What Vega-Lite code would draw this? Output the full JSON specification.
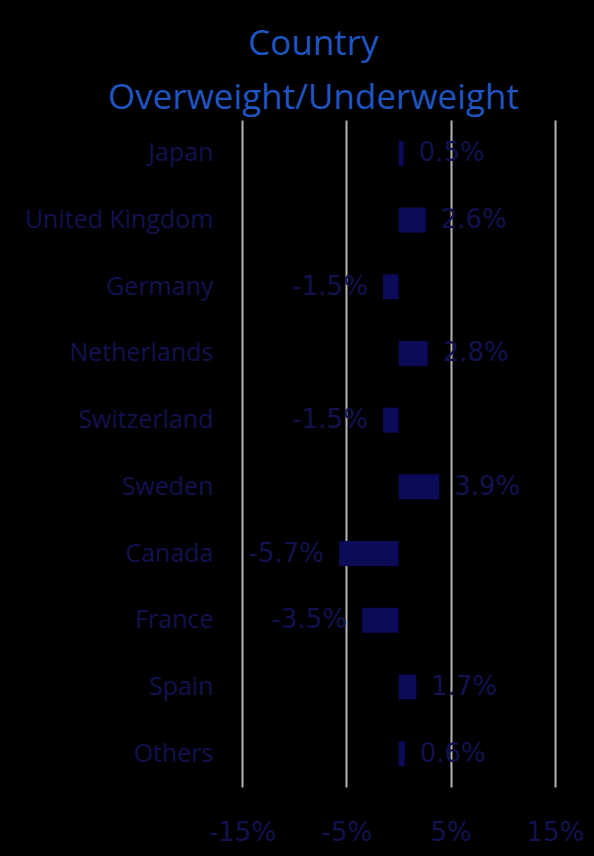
{
  "$schema": "https://vega.github.io/schema/vega-lite/v6.json",
  "autosize": {"type": "none"},
  "padding": {"left": 242, "top": 120, "right": 39, "bottom": 69},
  "width": 313,
  "height": 667,
  "background": "#000000",
  "title": {
    "text": ["Country", "Overweight/Underweight"],
    "anchor": "middle",
    "frame": "group",
    "dx": -85,
    "offset": 4,
    "font": "Open Sans",
    "fontSize": 35,
    "fontWeight": "normal",
    "lineHeight": 54,
    "color": "#1f55c0"
  },
  "data": {
    "values": [
      {"country": "Japan", "value": 0.005},
      {"country": "United Kingdom", "value": 0.026},
      {"country": "Germany", "value": -0.015},
      {"country": "Netherlands", "value": 0.028},
      {"country": "Switzerland", "value": -0.015},
      {"country": "Sweden", "value": 0.039},
      {"country": "Canada", "value": -0.057},
      {"country": "France", "value": -0.035},
      {"country": "Spain", "value": 0.017},
      {"country": "Others", "value": 0.006}
    ]
  },
  "transform": [
    {"calculate": "replace(format(datum.value, '.1%'), '\u2212', '-')", "as": "label"}
  ],
  "encoding": {
    "y": {
      "field": "country",
      "type": "nominal",
      "sort": null,
      "title": null,
      "scale": {"paddingInner": 0.625, "paddingOuter": 0.3125},
      "axis": {
        "domain": false,
        "ticks": false,
        "labelPadding": 29,
        "labelLimit": 300,
        "labelFont": "Open Sans",
        "labelFontSize": 25,
        "labelColor": "#12124f"
      }
    },
    "x": {
      "field": "value",
      "type": "quantitative",
      "title": null,
      "scale": {"domain": [-0.15, 0.15]},
      "axis": {
        "values": [-0.15, -0.05, 0.05, 0.15],
        "labelExpr": "replace(format(datum.value, '.0%'), '\u2212', '-')",
        "labelFlush": false,
        "domain": false,
        "ticks": false,
        "grid": true,
        "gridColor": "#b4b4b4",
        "gridWidth": 2,
        "labelPadding": 32,
        "labelFont": "DejaVu Sans",
        "labelFontSize": 26,
        "labelColor": "#12124f"
      }
    }
  },
  "layer": [
    {
      "mark": {"type": "bar", "color": "#0b0b58"}
    },
    {
      "transform": [{"filter": "datum.value >= 0"}],
      "mark": {
        "type": "text",
        "align": "left",
        "baseline": "middle",
        "dx": 15,
        "font": "DejaVu Sans",
        "fontSize": 26,
        "color": "#12124f"
      },
      "encoding": {"text": {"field": "label"}}
    },
    {
      "transform": [{"filter": "datum.value < 0"}],
      "mark": {
        "type": "text",
        "align": "right",
        "baseline": "middle",
        "dx": -15,
        "font": "DejaVu Sans",
        "fontSize": 26,
        "color": "#12124f"
      },
      "encoding": {"text": {"field": "label"}}
    }
  ],
  "config": {
    "view": {"stroke": null}
  }
}
